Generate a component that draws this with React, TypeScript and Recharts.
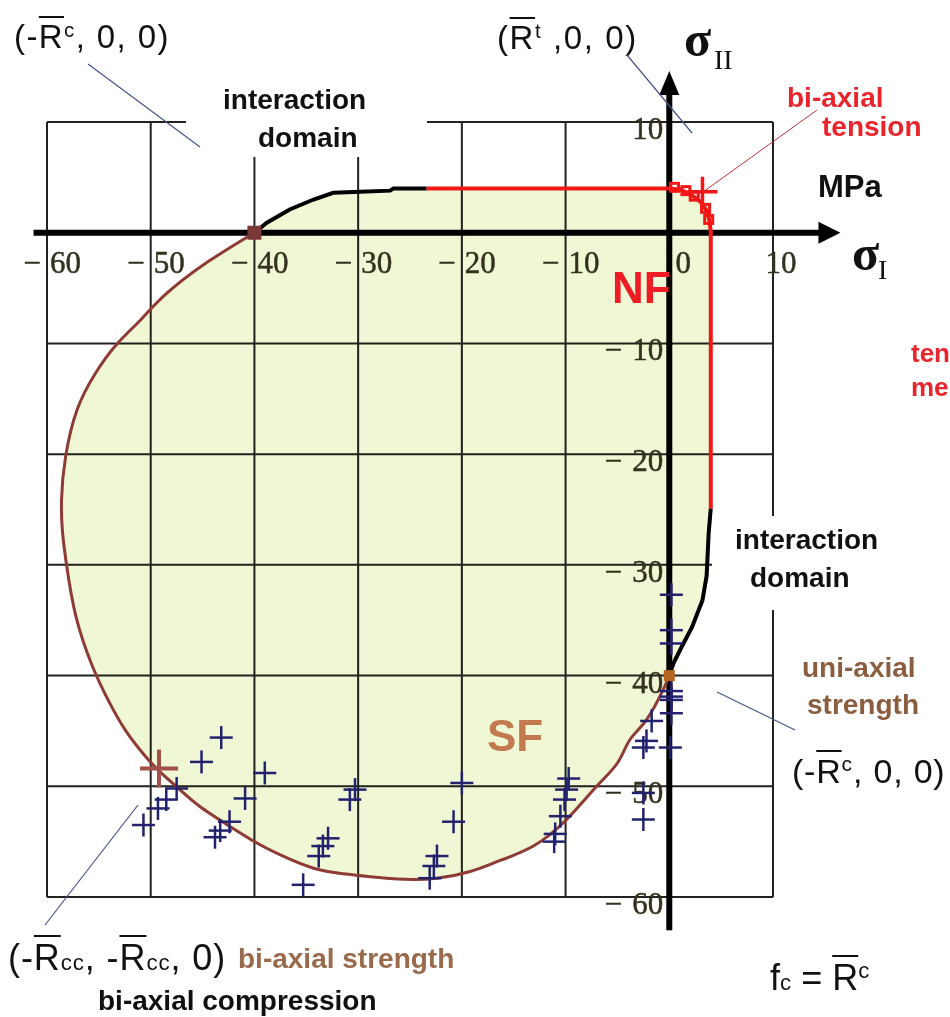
import React from 'react';
import {
  ScatterChart,
  Scatter,
  XAxis,
  YAxis,
  CartesianGrid,
  ReferenceLine,
  Curve,
} from 'recharts';

type Pt = { x: number; y: number };
const pts = (rows: number[][]): Pt[] => rows.map(([x, y]) => ({ x, y }));

// axis ticks (MPa)
const xTicks = [-60, -50, -40, -30, -20, -10, 0, 10];
const yTicks = [-60, -50, -40, -30, -20, -10, 0, 10];
const yTickLabels = [-60, -50, -40, -30, -20, -10, 10];

// failure envelope, split by regime, listed in drawing order
const interactionTop = pts([
  [-40, 0], [-38.8, 0.9], [-36.6, 2.1], [-34.3, 3.0], [-32.4, 3.6],
  [-29.8, 3.7], [-26.9, 3.8], [-26.6, 4.0], [-23.4, 4.0],
]);
const tensionCutoff = pts([
  [-23.4, 4.0], [0, 4.0], [1, 3.9], [2, 3.5], [3, 2.8], [3.6, 2.0],
  [3.9, 1.0], [4.0, 0], [4.0, -24.9],
]);
const interactionSide = pts([
  [4.0, -24.9], [3.8, -27.1], [3.6, -31.0], [3.2, -33.2], [2.2, -35.6],
  [1.2, -37.4], [0.4, -38.9], [0, -40],
]);
const compressionCurve = pts([
  [0, -40], [-0.6, -41.3], [-2.2, -44.0], [-3.8, -45.8], [-5.0, -47.9],
  [-7.0, -50.0], [-9.9, -53.0], [-13.1, -55.4], [-16.3, -56.7],
  [-19.2, -57.7], [-22.4, -58.3], [-25.5, -58.4], [-28.6, -58.2],
  [-31.4, -57.9], [-34.3, -57.4], [-37.5, -56.2],
  [-39.8, -55.1], [-42.4, -53.6], [-45.3, -51.8], [-47.2, -50.3],
  [-49.1, -48.7], [-50.6, -47.2], [-52.4, -45.0], [-54.0, -42.4],
  [-55.6, -39.2], [-57.2, -34.7], [-58.1, -30.1], [-58.5, -27.1],
  [-58.6, -24.1], [-58.2, -20.2], [-57.1, -16.0], [-55.4, -12.8],
  [-53.3, -10.1], [-51.0, -7.9], [-48.6, -5.6], [-44.6, -2.7], [-40, 0],
]);
const elasticDomain = [
  ...interactionTop,
  ...tensionCutoff,
  ...interactionSide,
  ...compressionCurve,
];

// test results
const testPoints = pts([
  [-43.2, -45.6], [-45.1, -47.8], [-39.0, -48.8], [-47.5, -50.2],
  [-40.9, -51.1], [-48.5, -51.2], [-49.3, -52.0], [-50.7, -53.5],
  [-42.4, -53.2], [-43.3, -54.0], [-43.8, -54.6],
  [-30.3, -50.3], [-30.8, -51.2], [-32.9, -54.7], [-33.4, -55.4],
  [-33.8, -56.3], [-35.3, -58.9], [-20.8, -53.2], [-22.4, -56.3],
  [-22.7, -57.2], [-23.1, -58.3], [-20.0, -49.7],
  [-9.7, -49.3], [-9.9, -50.3], [-10.1, -51.2], [-10.5, -52.7],
  [-11.0, -54.3], [-11.1, -55.0], [-2.5, -46.5], [0.1, -46.5],
  [-2.5, -50.6], [-2.5, -53.0], [-1.7, -44.1], [-2.2, -45.9],
  [0.2, -32.7], [0.2, -35.9], [0.2, -37.1], [0.2, -41.4], [0.2, -41.9],
  [0.2, -42.2], [0.2, -43.4],
]);
const tensionTests = pts([[0.5, 4.1], [1.6, 3.8], [2.4, 3.3], [3.5, 2.2], [3.8, 1.2]]);
const tensionStrength = pts([[3.2, 3.7]]);
const uniaxialStrength = pts([[-40, 0], [0, -40]]);
const biaxialStrength = pts([[-49.2, -48.4]]);

const xTickRow = xTicks.map((x) => ({ x, y: 0 }));
const yTickRow = yTickLabels.map((y) => ({ x: 0, y }));

const FILL = '#eff7d4';
const GRID = '#222';
const BROWN = '#8e3b36';
const RED = '#f21616';
const NAVY = '#22226e';
const TICK_FONT = '"Liberation Serif", "Times New Roman", serif';
const SANS = '"Liberation Sans", Arial, sans-serif';

const noDot = () => <g />;

const fillPolygon = (props: any) => {
  const p: { x: number; y: number }[] = props.points || [];
  const d = p.map((q, i) => `${i ? 'L' : 'M'}${q.x},${q.y}`).join(' ') + ' Z';
  return <path d={d} fill={FILL} stroke="none" style={{ mixBlendMode: 'multiply' }} />;
};

// smooth stroke through the scatter points
const smoothLine = (stroke: string, width: number) => (props: any) => (
  <Curve
    type="natural"
    points={props.points}
    stroke={stroke}
    strokeWidth={width}
    fill="none"
    strokeLinejoin="round"
  />
);

const plus = (size: number, color: string, width: number) => (props: any) => {
  const { cx, cy } = props;
  const h = size / 2;
  return (
    <g stroke={color} strokeWidth={width}>
      <line x1={cx - h} y1={cy} x2={cx + h} y2={cy} />
      <line x1={cx} y1={cy - h} x2={cx} y2={cy + h} />
    </g>
  );
};

const hollowSquare = (props: any) => (
  <rect x={props.cx - 4} y={props.cy - 4} width={8} height={8} fill="none" stroke={RED} strokeWidth={3} />
);

const filledSquare = (color: string, size: number) => (props: any) => (
  <rect x={props.cx - size / 2} y={props.cy - size / 2} width={size} height={size} fill={color} />
);

const minus = '\u2212';
const tickStyle = {
  fontFamily: TICK_FONT,
  fontSize: 31,
  fill: '#35311f',
  stroke: '#35311f',
  strokeWidth: 0.5,
};

const xTickLabel = (props: any) => {
  const { cx, cy, payload } = props;
  const v: number = payload.x;
  if (v < 0) {
    return (
      <g style={tickStyle}>
        <text x={cx - 6} y={cy + 40} textAnchor="end">{minus}</text>
        <text x={cx + 3} y={cy + 40}>{Math.abs(v)}</text>
      </g>
    );
  }
  return (
    <text x={cx + (v === 0 ? 14 : 8)} y={cy + 40} textAnchor="middle" style={tickStyle}>
      {v}
    </text>
  );
};

const yTickLabel = (props: any) => {
  const { cx, cy, payload } = props;
  const v: number = payload.y;
  return (
    <g style={tickStyle}>
      {v < 0 && (
        <text x={cx - 47} y={cy + 17} textAnchor="end">{minus}</text>
      )}
      <text x={cx - 6} y={cy + 17} textAnchor="end">{Math.abs(v)}</text>
    </g>
  );
};

const arrowAxis = (horizontal: boolean) => (props: any) => {
  const { x1, y1, x2, y2 } = props;
  const head = horizontal
    ? `${x2},${y2} ${x2 - 22},${y2 - 11} ${x2 - 22},${y2 + 11}`
    : `${x2},${y2} ${x2 - 10},${y2 + 24} ${x2 + 10},${y2 + 24}`;
  return (
    <g>
      <line x1={x1} y1={y1} x2={horizontal ? x2 - 12 : x2} y2={horizontal ? y2 : y2 + 12} stroke="#000" strokeWidth={6} />
      <polygon points={head} fill="#000" />
    </g>
  );
};

const R = () => (
  <span style={{ textDecoration: 'overline', textDecorationThickness: 2 }}>R</span>
);

const Note = ({
  left,
  top,
  size,
  color = '#111',
  bold = false,
  family = SANS,
  spacing = 0,
  children,
}: {
  left: number;
  top: number;
  size: number;
  color?: string;
  bold?: boolean;
  family?: string;
  spacing?: number;
  children: React.ReactNode;
}) => (
  <div
    style={{
      position: 'absolute',
      left,
      top,
      fontSize: size,
      lineHeight: 1,
      color,
      fontWeight: bold ? 700 : 400,
      fontFamily: family,
      letterSpacing: spacing,
      whiteSpace: 'nowrap',
    }}
  >
    {children}
  </div>
);

const sup = { fontSize: '0.62em', verticalAlign: '0.55em' };
const sub = { fontSize: '0.62em' };

export default function App() {
  return (
    <div
      style={{
        position: 'absolute',
        left: 0,
        top: 0,
        width: 950,
        height: 1017,
        background: '#fff',
        overflow: 'hidden',
      }}
    >
      <ScatterChart
        width={950}
        height={1017}
        margin={{ top: 122, right: 177, bottom: 120, left: 47 }}
      >
        <XAxis type="number" dataKey="x" domain={[-60, 10]} ticks={xTicks} hide />
        <YAxis type="number" dataKey="y" domain={[-60, 10]} ticks={yTicks} hide />
        <CartesianGrid stroke={GRID} strokeWidth={2} />
        <Scatter data={elasticDomain} line={fillPolygon} shape={noDot} isAnimationActive={false} />
        <ReferenceLine
          segment={[{ x: -61.3, y: 0 }, { x: 16.5, y: 0 }]}
          ifOverflow="visible"
          shape={arrowAxis(true)}
        />
        <ReferenceLine
          segment={[{ x: 0, y: -63 }, { x: 0, y: 14.6 }]}
          ifOverflow="visible"
          shape={arrowAxis(false)}
        />
        <Scatter data={xTickRow} shape={xTickLabel} isAnimationActive={false} />
        <Scatter data={yTickRow} shape={yTickLabel} isAnimationActive={false} />
        <Scatter data={compressionCurve} line={smoothLine(BROWN, 3)} shape={noDot} isAnimationActive={false} />
        <Scatter data={interactionTop} line={{ stroke: '#000', strokeWidth: 4 }} shape={noDot} isAnimationActive={false} />
        <Scatter data={interactionSide} line={{ stroke: '#000', strokeWidth: 4 }} shape={noDot} isAnimationActive={false} />
        <Scatter data={tensionCutoff} line={{ stroke: RED, strokeWidth: 4 }} shape={noDot} isAnimationActive={false} />
        <Scatter data={testPoints} shape={plus(23, NAVY, 2.5)} isAnimationActive={false} />
        <Scatter data={tensionTests} shape={hollowSquare} isAnimationActive={false} />
        <Scatter data={tensionStrength} shape={plus(30, RED, 3.5)} isAnimationActive={false} />
        <Scatter data={biaxialStrength} shape={plus(38, '#a4504a', 4)} isAnimationActive={false} />
        <Scatter data={uniaxialStrength.slice(0, 1)} shape={filledSquare('#7b3838', 14)} isAnimationActive={false} />
        <Scatter data={uniaxialStrength.slice(1)} shape={filledSquare('#b5651d', 11)} isAnimationActive={false} />
      </ScatterChart>

      {/* label boxes break the grid lines */}
      <div style={{ position: 'absolute', left: 186, top: 84, width: 241, height: 73, background: '#fff' }} />
      <div style={{ position: 'absolute', left: 712, top: 516, width: 200, height: 94, background: '#fff' }} />

      <Note left={223} top={86} size={28} bold>interaction</Note>
      <Note left={258} top={124} size={28} bold>domain</Note>
      <Note left={735} top={526} size={28} bold>interaction</Note>
      <Note left={750} top={564} size={28} bold>domain</Note>

      <Note left={787} top={84} size={28} bold color="#e8242c">bi-axial</Note>
      <Note left={822} top={113} size={28} bold color="#e8242c">tension</Note>
      <Note left={818} top={171} size={31} bold>MPa</Note>
      <Note left={911} top={340} size={26} bold color="#e8242c">ten</Note>
      <Note left={911} top={374} size={26} bold color="#e8242c">me</Note>

      <Note left={612} top={266} size={44} bold color="#ee1c24">NF</Note>
      <Note left={487} top={714} size={44} bold color="#c27a4e">SF</Note>

      <Note left={802} top={654} size={28} bold color="#8b5d3f">uni-axial</Note>
      <Note left={807} top={691} size={28} bold color="#8b5d3f">strength</Note>
      <Note left={238} top={945} size={28} bold color="#9a6a4c">bi-axial strength</Note>
      <Note left={98} top={987} size={28} bold>bi-axial compression</Note>

      <Note left={14} top={20} size={33} spacing={1.4}>
        (-<R /><span style={sup}>c</span>, 0, 0)
      </Note>
      <Note left={497} top={21} size={33} spacing={1.6}>
        (<R /><span style={sup}>t</span> ,0, 0)
      </Note>
      <Note left={792} top={753} size={34} spacing={0.8}>
        (-<R /><span style={sup}>c</span>, 0, 0)
      </Note>
      <Note left={8} top={940} size={36} spacing={0.9}>
        (-<R /><span style={sub}>cc</span>, -<R /><span style={sub}>cc</span>, 0)
      </Note>
      <Note left={770} top={960} size={36}>
        f<span style={sub}>c</span> = <R /><span style={sup}>c</span>
      </Note>

      <Note left={684} top={14} size={50} family={TICK_FONT} bold>σ</Note>
      <Note left={714} top={46} size={28} family={TICK_FONT}>II</Note>
      <Note left={852} top={228} size={50} family={TICK_FONT} bold>σ</Note>
      <Note left={878} top={256} size={28} family={TICK_FONT}>I</Note>

      {/* leader lines */}
      <svg
        width={950}
        height={1017}
        style={{ position: 'absolute', left: 0, top: 0, pointerEvents: 'none' }}
      >
        <g stroke="#46548a" strokeWidth={1.2}>
          <line x1={88} y1={64} x2={200} y2={147} />
          <line x1={627} y1={55} x2={692} y2={133} />
          <line x1={717} y1={692} x2={795} y2={730} />
          <line x1={45} y1={925} x2={138} y2={805} />
        </g>
        <line x1={817} y1={110} x2={703} y2={192} stroke="#c0303a" strokeWidth={1} />
      </svg>
    </div>
  );
}
